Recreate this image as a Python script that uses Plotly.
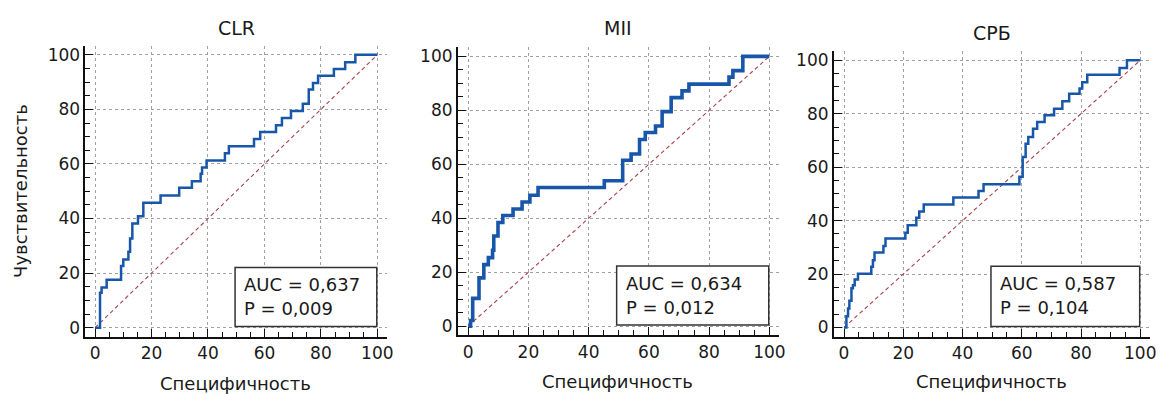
import plotly.graph_objects as go

W, H = 1165, 394

titles = ["CLR", "MII", "СРБ"]
auc_labels = ["AUC = 0,637", "AUC = 0,634", "AUC = 0,587"]
p_labels = ["P = 0,009", "P = 0,012", "P = 0,104"]
x_title = "Специфичность"
y_title = "Чувствительность"
tick_vals = [0, 20, 40, 60, 80, 100]

clr_spec = [0, 1.75, 2.3, 4.1, 9.2, 10.0, 11.8, 12.4, 13.2, 15.2, 17.1, 23.2, 29.8, 34.3, 37.4, 37.9,
            39.5, 46.0, 47.4, 56.3, 58.5, 64.1, 66.2, 69.4, 73.6, 75.7, 77.2, 79.0, 84.6, 88.6, 92.2, 100]
clr_sens = [0, 12.8, 14.7, 17.6, 22.6, 25.0, 27.8, 32.7, 38.2, 40.8, 45.8, 48.4, 51.3, 53.7, 56.4, 58.7,
            61.3, 63.9, 66.5, 69.1, 71.7, 74.2, 76.8, 79.4, 82.1, 87.3, 89.7, 92.3, 94.8, 97.3, 100, 100]

mii_spec = [0, 0.8, 1.5, 3.6, 5.2, 6.7, 8.1, 8.5, 9.9, 11.5, 14.9, 17.9, 20.5, 23.2, 45.2, 51.3,
            54.1, 56.9, 58.8, 62.2, 64.4, 67.4, 71.0, 73.3, 86.6, 87.9, 91.2, 100]
mii_sens = [0, 2.1, 10.3, 17.9, 22.8, 25.4, 28.1, 33.4, 38.4, 41.0, 43.4, 46.0, 48.5, 51.4, 53.9, 61.5,
            63.8, 69.2, 71.8, 74.2, 79.5, 84.7, 87.2, 89.7, 92.3, 94.7, 100, 100]

crp_spec = [0, 0.8, 1.35, 1.8, 2.5, 3.0, 3.6, 4.7, 9.2, 9.75, 10.3, 13.3, 14.0, 20.7, 21.5, 24.4, 25.4,
            26.9, 36.9, 45.4, 47.1, 59.2, 60.3, 61.3, 62.2, 63.8, 65.2, 67.7, 70.9, 73.7, 76.0, 79.5,
            80.4, 82.1, 93.0, 95.5, 100]
crp_sens = [0, 4.2, 7.1, 10.0, 14.7, 15.8, 18.0, 20.1, 22.7, 25.2, 28.1, 30.5, 33.3, 35.5, 38.3, 41.1, 43.4,
            46.0, 48.6, 51.1, 53.6, 56.4, 63.8, 68.8, 71.3, 74.4, 76.9, 79.4, 81.9, 84.7, 87.5, 89.4,
            91.8, 94.6, 97.1, 100, 100]

curves = [(clr_spec, clr_sens), (mii_spec, mii_sens), (crp_spec, crp_sens)]
line_widths = [2.5, 3.6, 2.5]

# pixel layout of each panel: (left, right, top, bottom)
panels_px = [(86, 389, 45, 337.7), (460.7, 784, 46.7, 336), (839, 1157, 50.7, 337.3)]
title_px = [(238, 27), (622, 27), (997.5, 32)]
xtitle_px = [(237, 384), (621, 382), (997.5, 382)]
box_x0 = [49.6, 49.3, 49.6]
box_y1 = [22.1, 22.3, 22.9]

FONT = "DejaVu Sans"
BLUE = "#1756a9"
fig = go.Figure()

for i in range(3):
    xa = "x" if i == 0 else f"x{i+1}"
    ya = "y" if i == 0 else f"y{i+1}"
    sx, sy = curves[i]
    fig.add_trace(go.Scatter(x=[0, 100], y=[0, 100], mode="lines", xaxis=xa, yaxis=ya,
                             line=dict(color="#a8424a", width=1.1, dash="4px,3px"),
                             showlegend=False, hoverinfo="skip"))
    fig.add_trace(go.Scatter(x=sx, y=sy, mode="lines", xaxis=xa, yaxis=ya,
                             line=dict(color=BLUE, width=line_widths[i], shape="hv"),
                             showlegend=False))
    l, r, t, b = panels_px[i]
    axis_common = dict(range=[-3.4, 103.3], tickvals=tick_vals, ticks="inside", ticklen=8,
                       tickwidth=1.3, tickcolor="#111", showline=True, linecolor="#111",
                       linewidth=2, showgrid=True, gridcolor="#a0a0a0", gridwidth=1,
                       griddash="3px,3px", zeroline=False,
                       tickfont=dict(family=FONT, size=17, color="#1a1a1a"),
                       minor=dict(dtick=5, tick0=0, ticks="inside", ticklen=5, tickwidth=1.2,
                                  tickcolor="#111", showgrid=False),
                       fixedrange=True)
    xkey = "xaxis" if i == 0 else f"xaxis{i+1}"
    ykey = "yaxis" if i == 0 else f"yaxis{i+1}"
    fig.update_layout(**{
        xkey: dict(axis_common, domain=[l / W, r / W], anchor=ya),
        ykey: dict(axis_common, domain=[1 - b / H, 1 - t / H], anchor=xa),
    })
    # AUC box
    fig.add_shape(type="rect", xref=xa, yref=ya, x0=box_x0[i], x1=99.8, y0=0.4, y1=box_y1[i],
                  line=dict(color="#333", width=1.5), fillcolor="white", layer="above")
    fig.add_annotation(xref=xa, yref=ya, x=box_x0[i], y=box_y1[i], xanchor="left", yanchor="top",
                       xshift=7, yshift=-5, text=auc_labels[i], showarrow=False, align="left",
                       font=dict(family=FONT, size=18, color="#1a1a1a"))
    fig.add_annotation(xref=xa, yref=ya, x=box_x0[i], y=box_y1[i], xanchor="left", yanchor="top",
                       xshift=7, yshift=-29, text=p_labels[i], showarrow=False, align="left",
                       font=dict(family=FONT, size=18, color="#1a1a1a"))
    # panel title
    tx, ty = title_px[i]
    fig.add_annotation(xref="paper", yref="paper", x=tx / W, y=1 - ty / H, xanchor="center",
                       yanchor="middle", text=titles[i], showarrow=False,
                       font=dict(family=FONT, size=19, color="#1a1a1a"))
    # x axis title
    qx, qy = xtitle_px[i]
    fig.add_annotation(xref="paper", yref="paper", x=qx / W, y=1 - qy / H, xanchor="center",
                       yanchor="middle", text=x_title, showarrow=False,
                       font=dict(family=FONT, size=18, color="#1a1a1a"))

fig.add_annotation(xref="paper", yref="paper", x=20 / W, y=1 - 191 / H, xanchor="center",
                   yanchor="middle", text=y_title, textangle=-90, showarrow=False,
                   font=dict(family=FONT, size=18, color="#1a1a1a"))

fig.update_layout(width=W, height=H, margin=dict(l=0, r=0, t=0, b=0),
                  paper_bgcolor="white", plot_bgcolor="white", showlegend=False)

fig.write_html("out.html", config={"displayModeBar": False},
               post_script="document.body.style.margin='0px';document.body.style.padding='0px';"
                           "document.body.style.overflow='hidden';")
